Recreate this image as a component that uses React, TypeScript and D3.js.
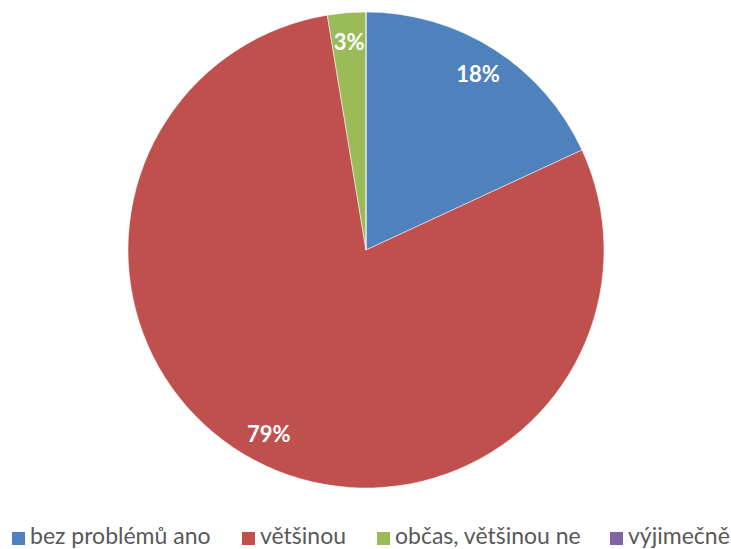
import React from "react";
import * as d3 from "d3";

const categories = ["bez problémů ano", "většinou", "občas, většinou ne", "výjimečně"];
const values = [18.1, 79.3, 2.6, 0];
const labels = ["18%", "79%", "3%", ""];
const colors = ["#4F81BD", "#C0504D", "#9BBB59", "#8064A2"];
const legendX = [12, 242, 377, 610];

export default function App() {
  const W = 731, H = 549;
  const cx = 366, cy = 250, R = 238, labelR = 208;
  const pie = d3.pie<number>().sort(null).value((d) => d)(values);
  const arc = d3.arc<d3.PieArcDatum<number>>().innerRadius(0).outerRadius(R);
  const lab = d3.arc<d3.PieArcDatum<number>>().innerRadius(labelR).outerRadius(labelR);
  return (
    <svg width={W} height={H} style={{ position: "absolute", left: 0, top: 0, fontFamily: "Lato, 'Open Sans', sans-serif" }}>
      <rect width={W} height={H} fill="#fff" />
      <g transform={`translate(${cx},${cy})`}>
        {pie.map((p, i) => (
          <path key={i} d={arc(p) || ""} fill={colors[i]} stroke="#fff" strokeWidth={0.5} />
        ))}
        {pie.map((p, i) => {
          if (!labels[i]) return null;
          const [x, y] = lab.centroid(p);
          return (
            <text key={i} x={x} y={y} dy="0.35em" textAnchor="middle" fill="#fff" fontWeight="bold" fontSize={22}>
              {labels[i]}
            </text>
          );
        })}
      </g>
      {categories.map((c, i) => (
        <g key={i} transform={`translate(${legendX[i]},0)`}>
          <rect x={0} y={532} width={13} height={13} fill={colors[i]} />
          <text x={18} y={544} fontSize={23} fill="#595959">{c}</text>
        </g>
      ))}
    </svg>
  );
}
